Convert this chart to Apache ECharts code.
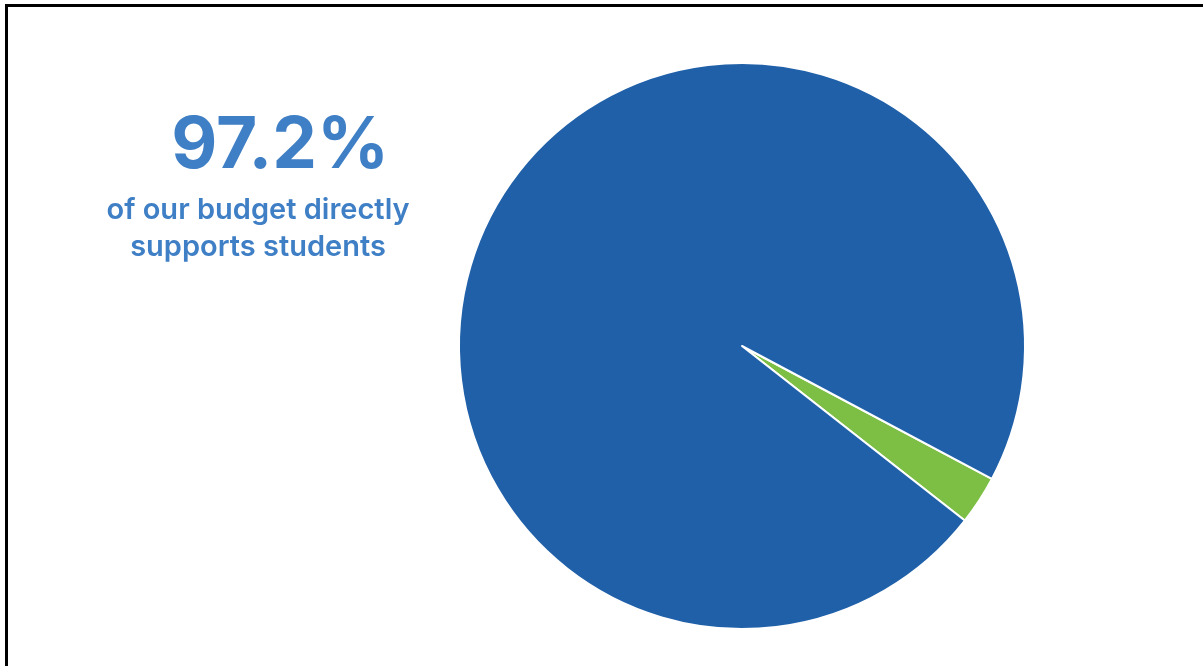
<!DOCTYPE html>
<html>
<head>
<meta charset="utf-8">
<style>
  html, body { margin: 0; padding: 0; background: #ffffff; }
  #chart { width: 1203px; height: 666px; }
</style>
<script src="https://cdn.jsdelivr.net/npm/echarts@6/dist/echarts.min.js"></script>
</head>
<body>
<div id="chart"></div>
<script>
// Budget split shown in the pie
const categories = ['Administration', 'Student support'];
const shares = [2.8, 97.2];
const sliceColors = ['#7dbf45', '#1f60a9'];

// Headline text beside the pie
const headline = '97.2%';
const captionLines = ['of our budget directly', 'supports students'];

const chart = echarts.init(document.getElementById('chart'), null, { renderer: 'canvas' });

const textColor = '#3f7fc5';
const fontFamily = 'Inter, "Noto Sans", sans-serif';

chart.setOption({
  animation: false,
  backgroundColor: '#ffffff',
  graphic: [
    // frame lines along the top and left edges
    { type: 'rect', shape: { x: 5, y: 4, width: 1198, height: 3 }, style: { fill: '#000' } },
    { type: 'rect', shape: { x: 5, y: 4, width: 3, height: 662 }, style: { fill: '#000' } },
    {
      type: 'text', x: 389, y: 147,
      style: { text: headline, fill: textColor, font: 'bold 71px ' + fontFamily, textAlign: 'right', textVerticalAlign: 'middle' }
    },
    {
      type: 'text', x: 258, y: 210,
      style: { text: captionLines[0], fill: textColor, font: '600 29px ' + fontFamily, textAlign: 'center', textVerticalAlign: 'middle' }
    },
    {
      type: 'text', x: 258, y: 247,
      style: { text: captionLines[1], fill: textColor, font: '600 29px ' + fontFamily, textAlign: 'center', textVerticalAlign: 'middle' }
    }
  ],
  series: [{
    type: 'pie',
    center: [742, 346],
    radius: [0, 283],
    startAngle: -28,
    clockwise: true,
    label: { show: false },
    labelLine: { show: false },
    itemStyle: { borderColor: '#ffffff', borderWidth: 2 },
    emphasis: { disabled: true },
    data: categories.map((name, i) => ({
      name, value: shares[i], itemStyle: { color: sliceColors[i] }
    }))
  }]
});
</script>
</body>
</html>
